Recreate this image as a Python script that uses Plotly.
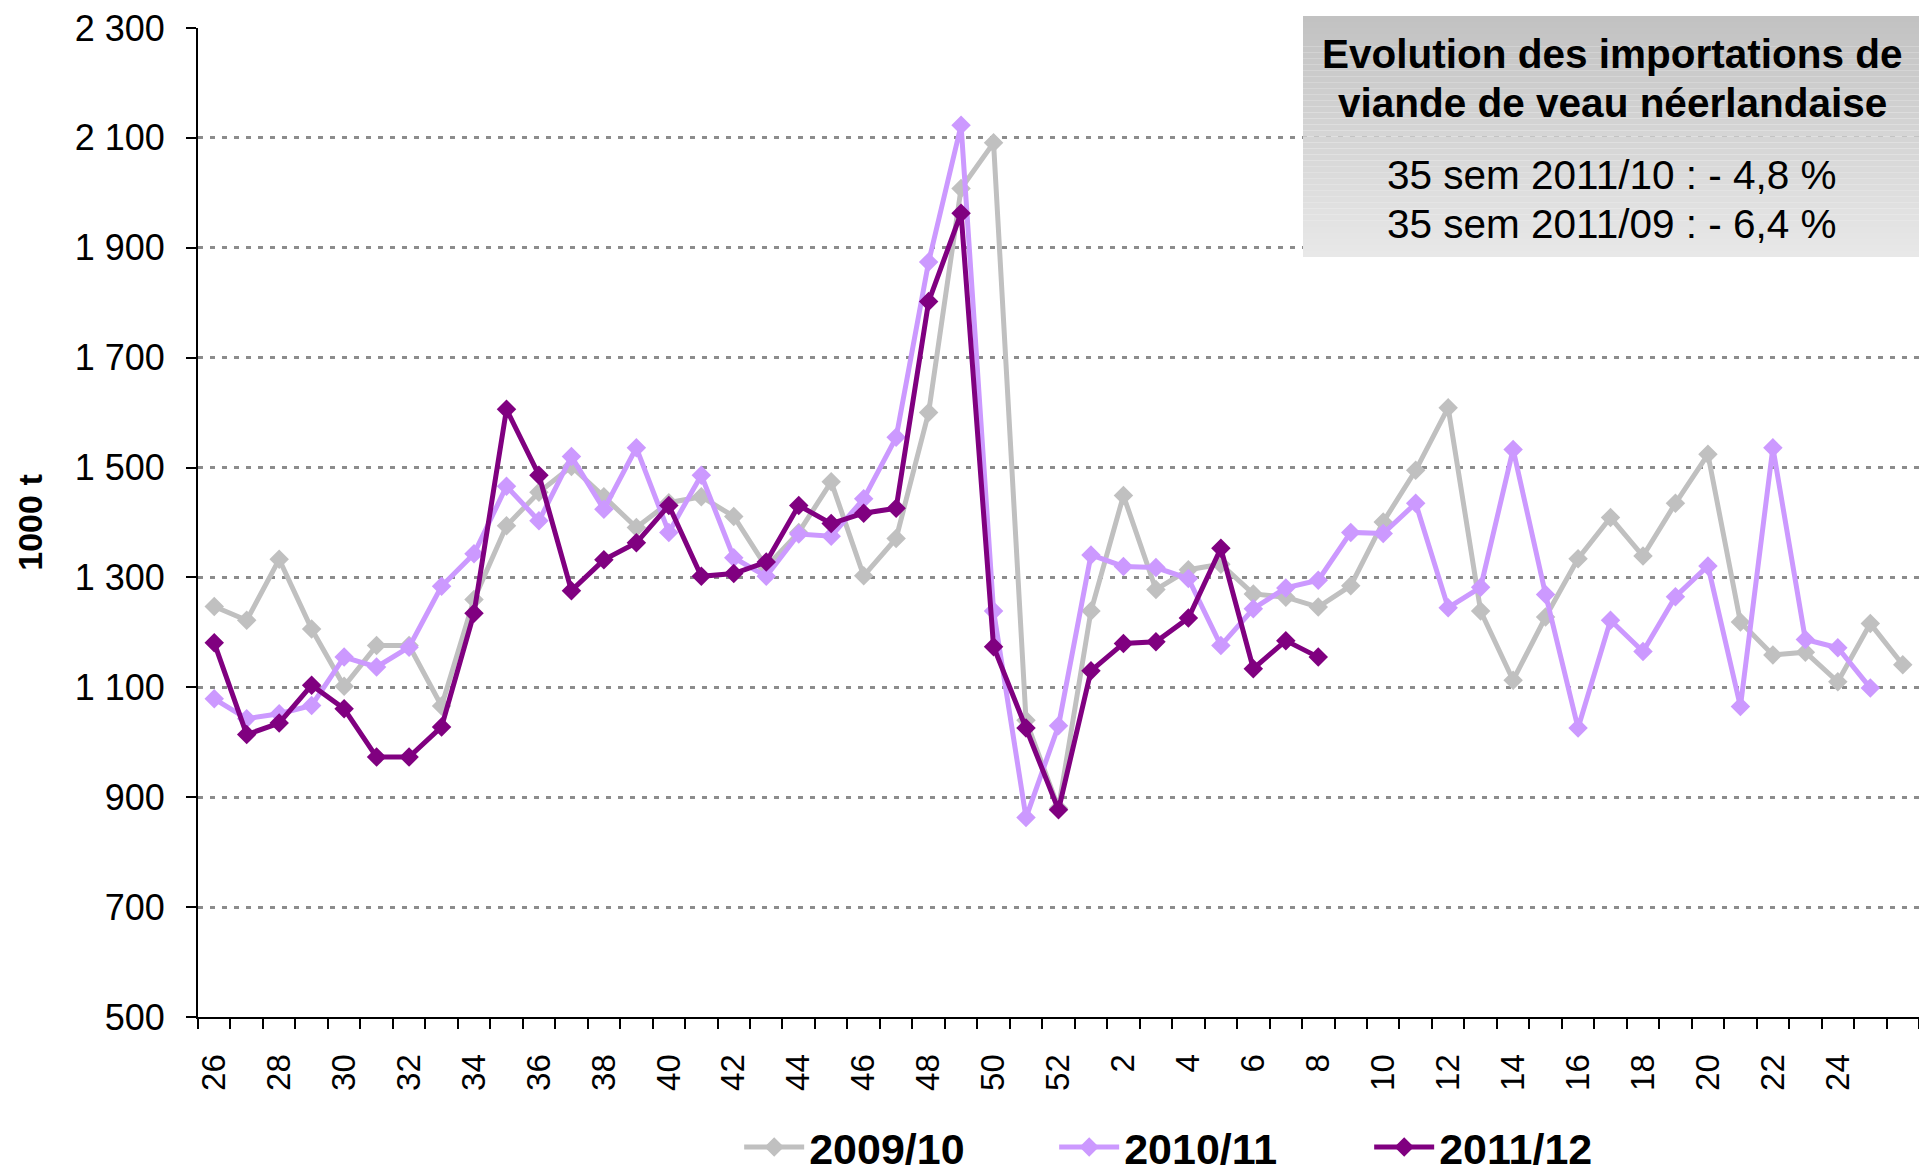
import plotly.graph_objects as go

weeks = [str(w) for w in list(range(26, 53)) + list(range(1, 27))]

s0910 = [1247, 1222, 1333, 1206, 1102, 1176, 1176, 1066, 1260, 1394,
         1455, 1502, 1447, 1391, 1436, 1447, 1411, 1319, 1382, 1474,
         1303, 1371, 1600, 2008, 2091, 1040, 880, 1239, 1449, 1278,
         1314, 1324, 1270, 1264, 1246, 1285, 1401, 1495, 1609, 1239,
         1113, 1228, 1334, 1409, 1339, 1435, 1524, 1219, 1159, 1164,
         1110, 1216, 1141]
s1011 = [1079, 1043, 1052, 1067, 1155, 1137, 1173, 1284, 1343, 1466,
         1403, 1520, 1424, 1536, 1382, 1486, 1336, 1302, 1379, 1375,
         1443, 1555, 1874, 2123, 1239, 863, 1030, 1341, 1320, 1318,
         1298, 1176, 1243, 1281, 1295, 1382, 1380, 1435, 1245, 1282,
         1533, 1269, 1026, 1222, 1165, 1265, 1321, 1065, 1536, 1187,
         1172, 1099]
s1112 = [1181, 1014, 1035, 1104, 1061, 973, 973, 1028, 1235, 1606,
         1486, 1276, 1332, 1363, 1431, 1302, 1307, 1328, 1431, 1398,
         1417, 1426, 1802, 1963, 1174, 1026, 877, 1130, 1180, 1183,
         1226, 1353, 1134, 1185, 1155]

series_names = ["2009/10", "2010/11", "2011/12"]
series_values = [s0910, s1011, s1112]
series_colors = ["#c0c0c0", "#cc99ff", "#800080"]

y_ticks = [500, 700, 900, 1100, 1300, 1500, 1700, 1900, 2100, 2300]
y_ticktext = ["500", "700", "900", "1 100", "1 300", "1 500", "1 700", "1 900", "2 100", "2 300"]

title_lines = ["Evolution des importations de", "viande de veau néerlandaise"]
sub_lines = ["35 sem 2011/10 : - 4,8 %", "35 sem 2011/09 : - 6,4 %"]

FONT = "Arial, 'Liberation Sans', sans-serif"

fig = go.Figure()
for name, vals, col in zip(series_names, series_values, series_colors):
    fig.add_trace(go.Scatter(
        x=list(range(len(vals))), y=vals, name=name, mode="lines+markers",
        line=dict(color=col, width=5),
        marker=dict(symbol="diamond", size=15, color=col),
    ))

n = len(weeks)
label_idx = [i for i in range(0, n - 1, 2)]

TOP, BOT = 28, 1017
H = BOT - TOP

def py(p):
    return (BOT - p) / H

# gradient box
x0p, x1p = (1303 - 198) / 1721, 1.0
y0p, y1p = py(257), py(16)
shapes = []
nb = 40
for k in range(nb):
    t = k / (nb - 1)
    c = int(round(194 + (232 - 194) * t))
    ya = y1p - (y1p - y0p) * k / nb
    yb = y1p - (y1p - y0p) * (k + 1) / nb
    shapes.append(dict(type="rect", xref="paper", yref="paper", x0=x0p, x1=x1p,
                       y0=yb, y1=ya, fillcolor=f"rgb({c},{c},{c})",
                       line=dict(width=0), layer="above"))

anns = []
cx = (1612 - 198) / 1721
for txt, p in zip(title_lines, [54, 103]):
    anns.append(dict(text=f"<b>{txt}</b>", x=cx, y=py(p), xref="paper", yref="paper",
                     showarrow=False, xanchor="center", yanchor="middle",
                     font=dict(family=FONT, size=40.5, color="black")))
for txt, p in zip(sub_lines, [175, 224]):
    anns.append(dict(text=txt, x=cx, y=py(p), xref="paper", yref="paper",
                     showarrow=False, xanchor="center", yanchor="middle",
                     font=dict(family=FONT, size=40.5, color="black")))

fig.update_layout(
    width=1919, height=1175,
    margin=dict(l=198, r=0, t=TOP, b=1175 - BOT, autoexpand=False),
    paper_bgcolor="white", plot_bgcolor="white",
    font=dict(family=FONT, color="black"),
    shapes=shapes, annotations=anns,
    legend=dict(orientation="h", x=0.589, xanchor="center", y=py(1147), yanchor="middle",
                font=dict(family=FONT, size=43, color="black", weight="bold"),
                itemwidth=60, entrywidth=240, bgcolor="rgba(0,0,0,0)"),
    xaxis=dict(
        range=[-0.5, n - 0.5], showgrid=False, zeroline=False,
        showline=True, linecolor="black", linewidth=2,
        tickmode="array", tickvals=label_idx, ticktext=[weeks[i] for i in label_idx],
        ticks="", tickangle=-90, ticklabelstandoff=22,
        tickfont=dict(family=FONT, size=33, color="black"),
        minor=dict(tickmode="array", tickvals=[i - 0.5 for i in range(n + 1)],
                   ticks="outside", ticklen=10, tickwidth=2, tickcolor="black", showgrid=False),
    ),
    yaxis=dict(
        range=[500, 2300], tickmode="array", tickvals=y_ticks, ticktext=y_ticktext,
        showgrid=True, gridcolor="#8c8c8c", gridwidth=3, griddash="5px,7px",
        zeroline=False, showline=True, linecolor="black", linewidth=2,
        ticks="outside", ticklen=10, tickwidth=2, tickcolor="black",
        ticklabelstandoff=14,
        tickfont=dict(family=FONT, size=36, color="black"),
        title=dict(text="<b>1000 t</b>", font=dict(family=FONT, size=34, color="black"), standoff=22),
    ),
)

fig.write_html("out.html", config={"displayModeBar": False},
               post_script="document.body.style.margin='0';")
